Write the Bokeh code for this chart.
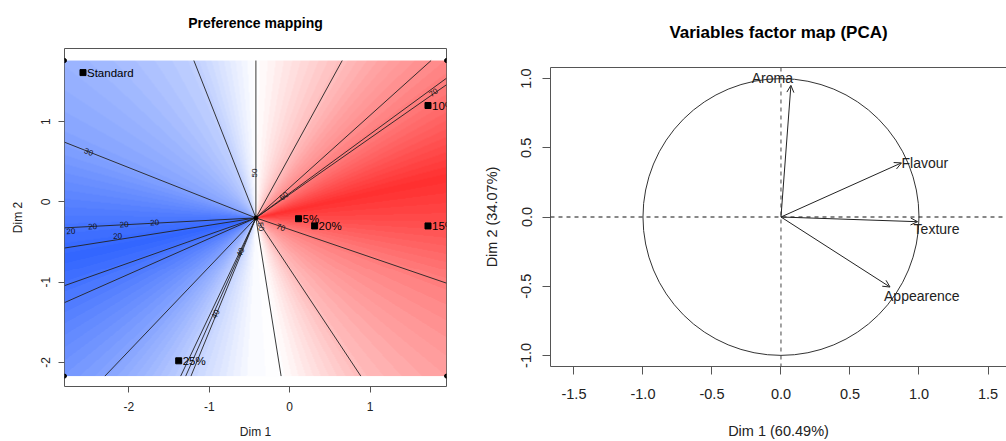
import numpy as np
from bokeh.plotting import figure
from bokeh.layouts import row
from bokeh.models import (ColumnDataSource, LinearColorMapper, FixedTicker, Span,
                          Arrow, OpenHead, LinearAxis, Range1d, Title)
from bokeh.embed import file_html
from bokeh.resources import INLINE
from bokeh.core.properties import value

FONT = "Liberation Sans"

# ---------------- Left panel data: preference mapping ----------------
products = ["Standard", "10%", "5%", "20%", "15%", "25%"]
prod_x = [-2.57, 1.72, 0.11, 0.31, 1.72, -1.38]
prod_y = [1.61, 1.20, -0.21, -0.30, -0.30, -1.98]

map_x = [-2.80, 1.95]          # extent of the response surface
map_y = [-2.17, 1.76]
fan_center = [-0.42, -0.20]    # point where all contour lines meet

# preference (%) read around the fan centre, by direction (degrees)
field_angles = [0, 12, 36, 61, 90, 111, 158, 183, 192, 200, 226, 246, 268, 279, 303, 341, 360]
field_values = [78, 82, 70, 60, 50, 40, 30, 20, 17, 20, 30, 40, 49, 50, 60, 70, 78]

# directions of the drawn contour lines (degrees)
contour_angles = [90, 111.4, 158.3, 183, 189, 199.6, 204, 226.5, 244.7, 246.2,
                  247.8, 279, 303.4, 341, 61.4, 42.1, 36.4, 35.1]

clabel_text = ["30", "50", "70", "70", "20", "20", "20", "20", "20", "40", "40", "50", "60"]
clabel_x = [-2.50, -0.435, -0.11, 1.79, -2.72, -2.45, -2.06, -1.68, -2.14, -0.92, -0.61, -0.36, -0.07]
clabel_y = [0.62, 0.36, -0.32, 1.36, -0.37, -0.31, -0.285, -0.26, -0.43, -1.40, -0.63, -0.31, 0.07]
clabel_angle = [-21.7, 90, -19, 35, 3, 3, 3, 3, 3, 64, 64, -81, 40]

left_xticks = [-2, -1, 0, 1]
left_xlabels = ["-2", "-1", "0", "1"]
left_yticks = [-2, -1, 0, 1]
left_ylabels = ["-2", "-1", "0", "1"]

# ---------------- Right panel data: variables factor map ----------------
variables = ["Aroma", "Flavour", "Texture", "Appearence"]
var_x = [0.072, 0.873, 0.99, 0.79]
var_y = [0.951, 0.391, -0.034, -0.506]
lab_dx = [2, 0, -4, -6]
lab_dy = [-7, 0, 7, 9]
lab_align = ["right", "left", "left", "left"]

right_xticks = [-1.5, -1.0, -0.5, 0.0, 0.5, 1.0, 1.5]
right_xlabels = ["-1.5", "-1.0", "-0.5", "0.0", "0.5", "1.0", "1.5"]
right_yticks = [-1.0, -0.5, 0.0, 0.5, 1.0]
right_ylabels = ["-1.0", "-0.5", "0.0", "0.5", "1.0"]

AX = "#555555"


def add_title(p, text, size, spacer_standoff, standoff, offset=0):
    # white (invisible) small spacer title next to the frame, visible title above it
    p.add_layout(Title(text=".", text_font=FONT, text_font_size="4px",
                       text_color="white", align="center", standoff=spacer_standoff), "above")
    p.add_layout(Title(text=text, text_font=FONT, text_font_size=size, text_font_style="bold",
                       text_color="black", align="center", standoff=standoff, offset=offset),
                 "above")


def style_axis(ax, tick_out, font_size, line_color):
    ax.axis_line_color = line_color
    ax.major_tick_line_color = AX
    ax.major_tick_out = tick_out
    ax.major_tick_in = 0
    ax.minor_tick_out = 0
    ax.minor_tick_in = 0
    ax.major_label_text_font = FONT
    ax.major_label_text_font_size = font_size
    ax.major_label_text_color = "#222222"
    ax.axis_label_text_font = FONT
    ax.axis_label_text_font_size = font_size
    ax.axis_label_text_font_style = "normal"
    ax.axis_label_text_color = "#222222"


# =================== LEFT FIGURE ===================
LX = (-2.80, 1.95)
LY = (-2.30, 1.91)
L_FW, L_FH = 382, 340
left = figure(width=480, height=441, x_range=Range1d(*LX), y_range=Range1d(*LY),
              output_backend="svg", toolbar_location=None,
              min_border_left=64, min_border_right=34, min_border_top=48, min_border_bottom=53)
left.frame_align = False
left.title.visible = False
left.outline_line_color = AX
left.xgrid.grid_line_color = None
left.ygrid.grid_line_color = None
add_title(left, "Preference mapping", "14px", 12, 2)

# response surface as image
kx = L_FW / (LX[1] - LX[0])
ky = L_FH / (LY[1] - LY[0])
nx, ny = 382, 317
gx = np.linspace(map_x[0], map_x[1], nx)
gy = np.linspace(map_y[0], map_y[1], ny)
GX, GY = np.meshgrid(gx, gy)
ang = np.degrees(np.arctan2((GY - fan_center[1]) * ky, (GX - fan_center[0]) * kx)) % 360
Z = np.round(np.interp(ang, field_angles, field_values))

def blend(c, t):
    return tuple(int(round(255 + (ci - 255) * t)) for ci in c)

lo, hi = 17, 82
blue = (51, 102, 255)
red = (255, 48, 48)
pal = []
for i in range(256):
    v = lo + (hi - lo) * i / 255
    if v < 50:
        c = blend(blue, (50 - v) / (50 - lo))
    else:
        c = blend(red, min(1.0, (v - 50) / (hi - 50)))
    pal.append("#%02x%02x%02x" % c)
mapper = LinearColorMapper(palette=pal, low=lo, high=hi)
left.image(image=[Z], x=map_x[0], y=map_y[0], dw=map_x[1] - map_x[0],
           dh=map_y[1] - map_y[0], color_mapper=mapper)

# contour lines: rays from the centre to the border of the surface
cx, cy = fan_center
ex, ey = [], []
for a in contour_angles:
    dx = np.cos(np.radians(a)) / kx
    dy = np.sin(np.radians(a)) / ky
    ts = []
    if dx > 1e-12:
        ts.append((map_x[1] - cx) / dx)
    if dx < -1e-12:
        ts.append((map_x[0] - cx) / dx)
    if dy > 1e-12:
        ts.append((map_y[1] - cy) / dy)
    if dy < -1e-12:
        ts.append((map_y[0] - cy) / dy)
    t = min(ts)
    ex.append(cx + t * dx)
    ey.append(cy + t * dy)
left.segment(x0=[cx] * len(ex), y0=[cy] * len(ey), x1=ex, y1=ey,
             line_color="#222222", line_width=0.9)
left.text(x=clabel_x, y=clabel_y, text=clabel_text, angle=clabel_angle, angle_units="deg",
          text_font=value(FONT), text_font_size="8px", text_color="#111111",
          text_align="center", text_baseline="middle")

# corners of the surface grid
left.scatter(x=[map_x[0], map_x[1], map_x[0], map_x[1]],
             y=[map_y[1], map_y[1], map_y[0], map_y[0]], size=4, color="black")
left.scatter(x=[cx], y=[cy], size=4, color="black")

# products
left.scatter(x=prod_x, y=prod_y, marker="square", size=6, color="black")
left.text(x=prod_x, y=prod_y, text=products, x_offset=4, text_font=value(FONT),
          text_font_size="11.5px", text_color="black", text_baseline="middle")

lxa = left.below[0]
lya = left.left[0]
style_axis(lxa, 6, "12px", None)
style_axis(lya, 6, "12px", None)
lxa.ticker = FixedTicker(ticks=left_xticks)
lxa.major_label_overrides = dict(zip(left_xticks, left_xlabels))
lya.ticker = FixedTicker(ticks=left_yticks)
lya.major_label_overrides = dict(zip(left_yticks, left_ylabels))
lxa.axis_label = "Dim 1"
lya.axis_label = "Dim 2"
lxa.major_label_standoff = 9
lxa.axis_label_standoff = 11
lya.major_label_standoff = 8
lya.axis_label_standoff = 14
lya.major_label_orientation = "vertical"

# =================== RIGHT FIGURE ===================
RX = (-1.67, 1.634)
RY = (-1.08, 1.08)
right = figure(width=526, height=441, x_range=Range1d(*RX), y_range=Range1d(*RY),
               output_backend="svg", toolbar_location=None,
               min_border_left=69, min_border_right=0, min_border_top=67, min_border_bottom=74)
right.frame_align = False
right.title.visible = False
right.outline_line_color = None
right.xgrid.grid_line_color = None
right.ygrid.grid_line_color = None

right.ellipse(x=[0], y=[0], width=[2], height=[2], fill_color=None,
              line_color="#333333", line_width=1)
right.add_layout(Span(location=0, dimension="height", line_dash="4 4",
                      line_color="#444444", line_width=1))
right.add_layout(Span(location=0, dimension="width", line_dash="4 4",
                      line_color="#111111", line_width=1))

src = ColumnDataSource(dict(x0=[0] * len(var_x), y0=[0] * len(var_y), x=var_x, y=var_y,
                            name=variables, dx=lab_dx, dy=lab_dy, align=lab_align))
right.add_layout(Arrow(end=OpenHead(size=7, line_width=1, line_color="#222222"),
                       x_start="x0", y_start="y0", x_end="x", y_end="y", source=src,
                       line_color="#222222", line_width=1))
right.text(x="x", y="y", text="name", x_offset="dx", y_offset="dy", text_align="align",
           text_baseline="middle", source=src, text_font=value(FONT),
           text_font_size="14px", text_color="#222222")

rxa = right.below[0]
rya = right.left[0]
style_axis(rxa, 8, "14.5px", AX)
style_axis(rya, 8, "14.5px", AX)
rxa.ticker = FixedTicker(ticks=right_xticks)
rxa.major_label_overrides = dict(zip(right_xticks, right_xlabels))
rya.ticker = FixedTicker(ticks=right_yticks)
rya.major_label_overrides = dict(zip(right_yticks, right_ylabels))
rxa.axis_label = "Dim 1 (60.49%)"
rya.axis_label = "Dim 2 (34.07%)"
rxa.major_label_standoff = 14
rxa.axis_label_standoff = 21
rya.major_label_standoff = 11
rya.axis_label_standoff = 19
rya.major_label_orientation = "vertical"

# top border line of the box (innermost "above" item), then the title
top_axis = LinearAxis(axis_line_color=AX, major_tick_line_color=None, minor_tick_line_color=None,
                      major_label_text_font_size="0px", major_label_text_color=None,
                      ticker=FixedTicker(ticks=[]))
right.add_layout(top_axis, "above")
add_title(right, "Variables factor map (PCA)", "17px", 20, 2, offset=2)

layout = row(left, right)
open("out.html", "w").write(file_html(layout, INLINE))
